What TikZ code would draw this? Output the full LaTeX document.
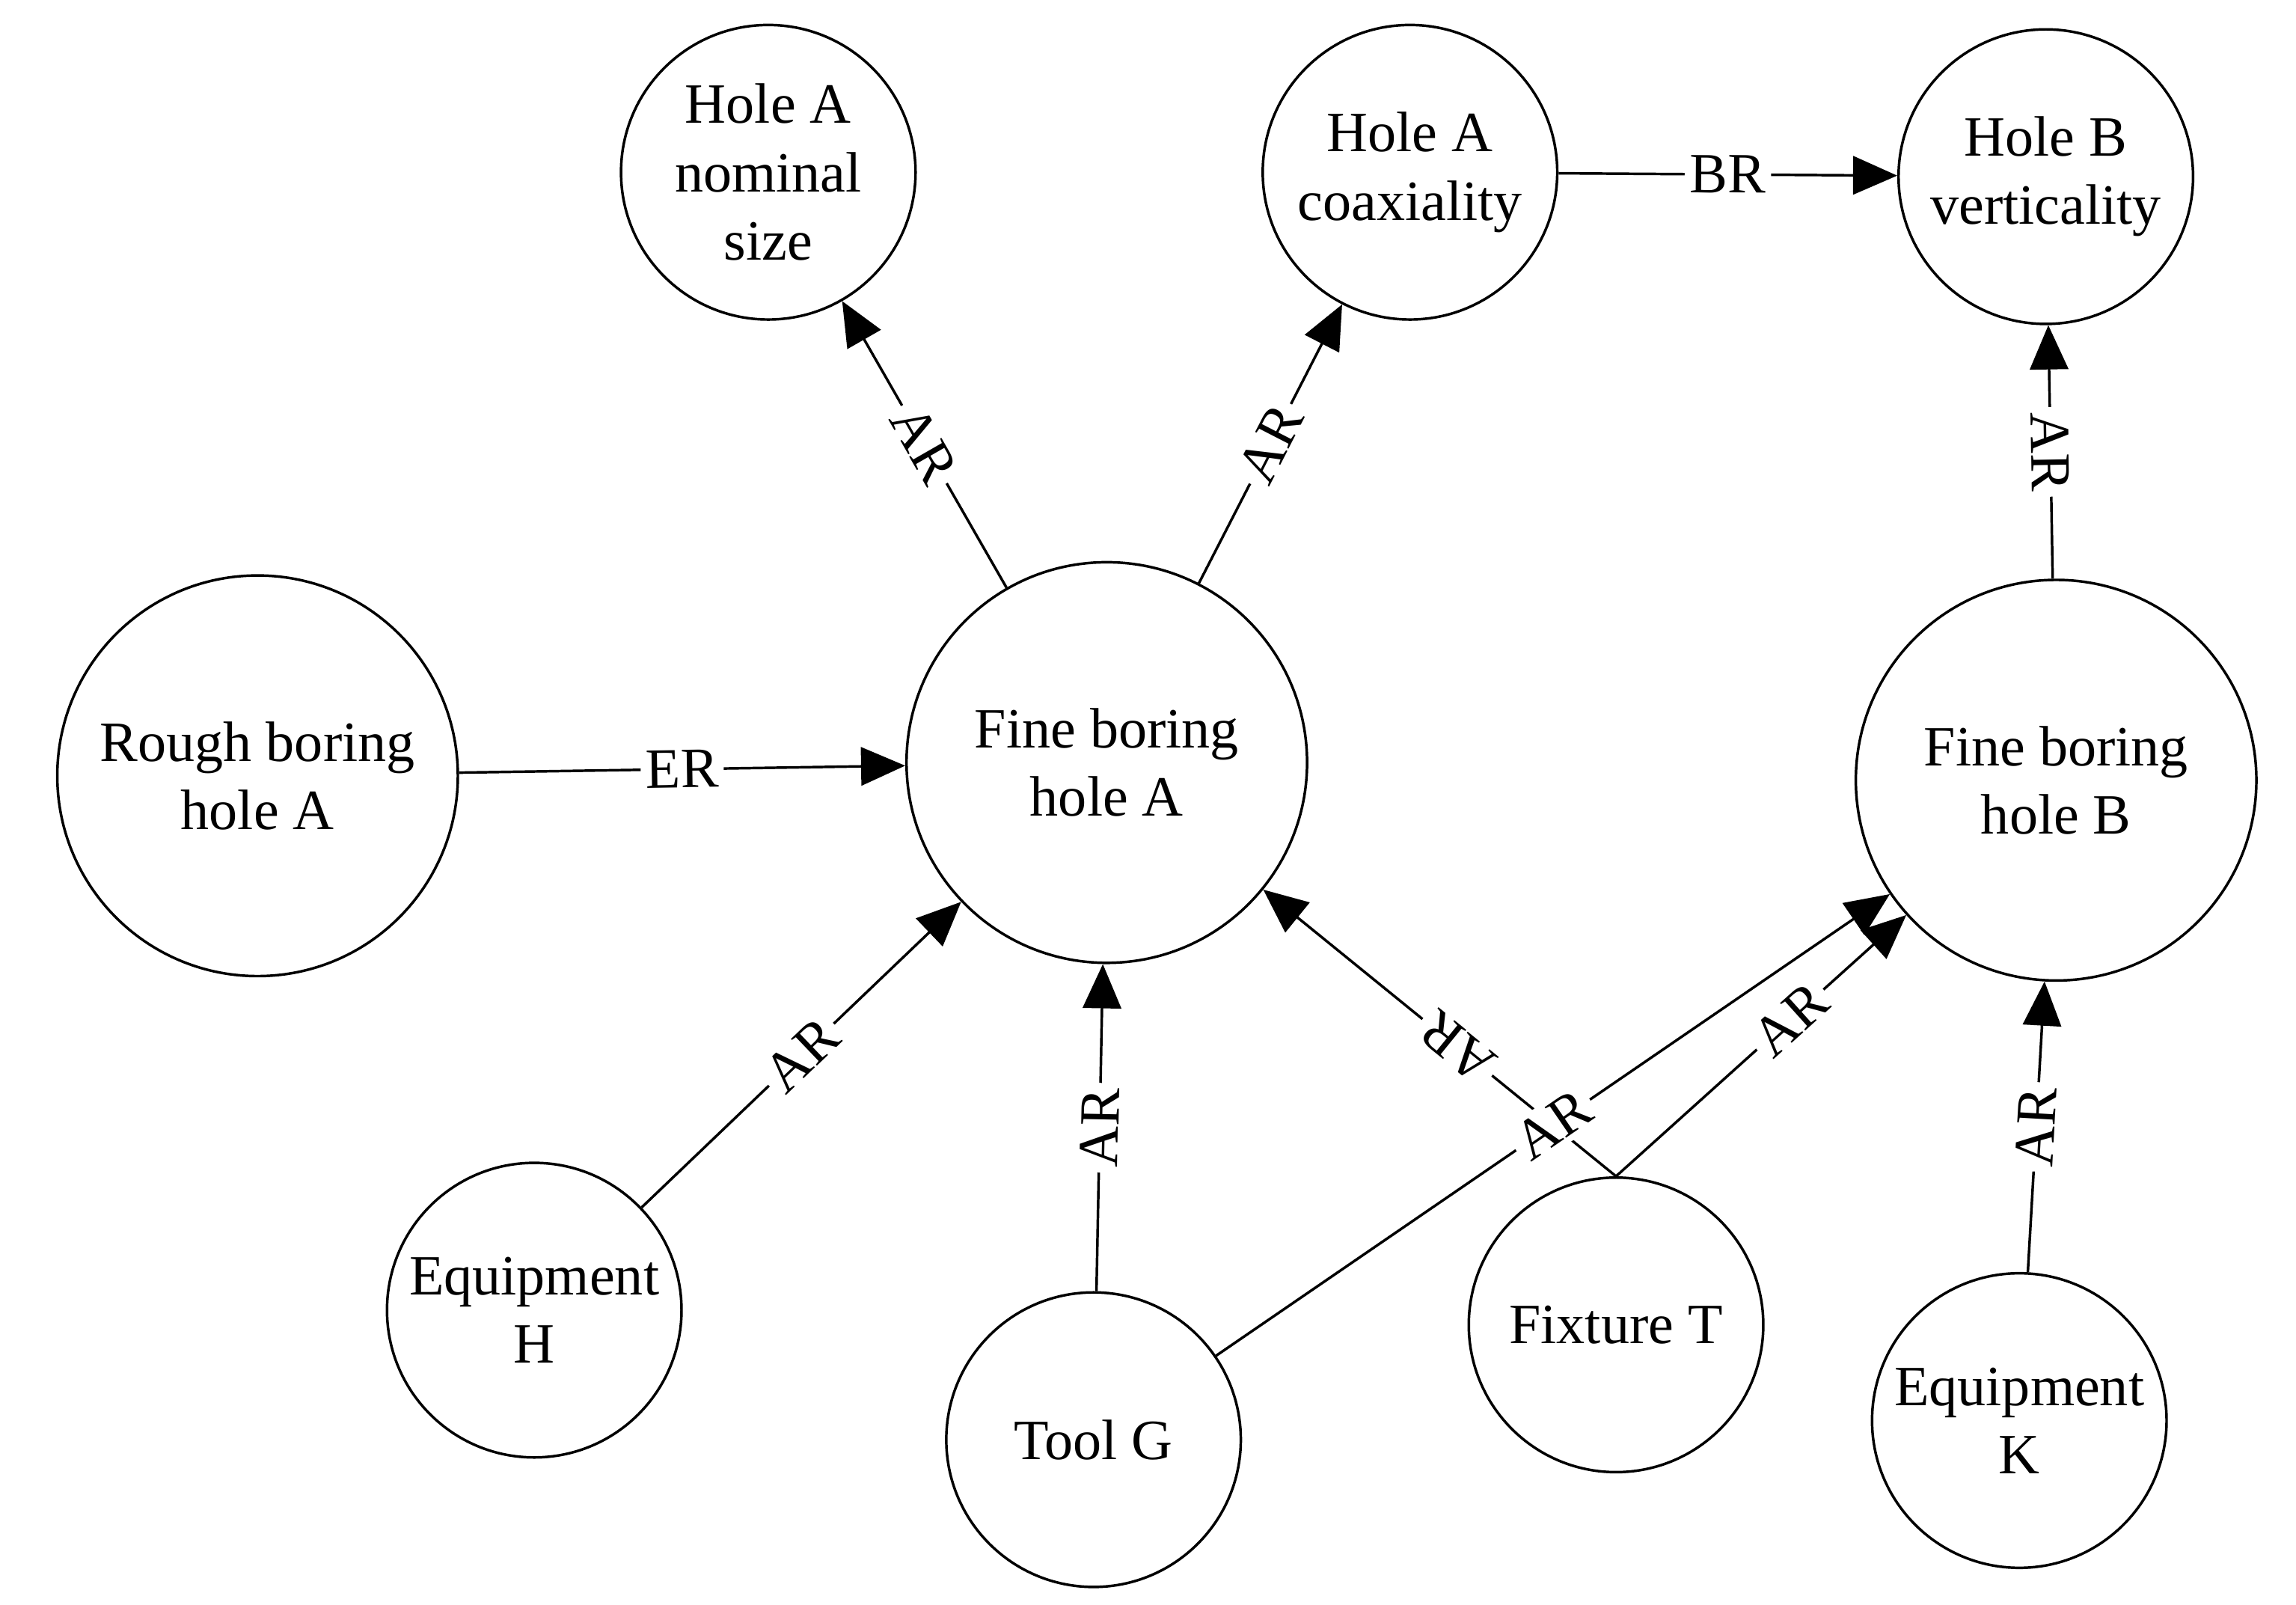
\documentclass[tikz,border=0pt]{standalone}
\usepackage{fontspec}
\setmainfont{Liberation Serif}
\usetikzlibrary{arrows.meta}

\begin{document}
\begin{tikzpicture}[x=0.01cm,y=-0.01cm,>={Triangle[length=3mm,width=2.6mm]}]
  \fontsize{11}{13.2}\selectfont
  \tikzset{
    item/.style={circle, draw=black, line width=0.5pt, align=center, inner sep=0pt},
    small/.style={item, minimum size=2cm},
    big/.style={item, minimum size=2.72cm},
    rel/.style={->, line width=0.5pt},
    tag/.style={fill=white, inner sep=1pt, sloped}
  }
  \useasboundingbox (0,0) rectangle (1560,1090);
  % nodes
  \node[small] (nomA) at (522,117) {Hole A\\nominal\\size};
  \node[small] (coaxA) at (958,117) {Hole A\\coaxiality};
  \node[small] (vertB) at (1390,120) {Hole B\\verticality};
  \node[big] (roughA) at (175,527) {Rough boring\\hole A};
  \node[big] (fineA) at (752,518) {Fine boring\\hole A};
  \node[big] (fineB) at (1397,530) {Fine boring\\hole B};
  \node[small] (eqH) at (363,890) {Equipment\\H};
  \node[small] (toolG) at (743,978) {Tool G};
  \node[small] (fixT) at (1098,900) {Fixture T};
  \node[small] (eqK) at (1372,965) {Equipment\\K};
  % relations
  \draw[rel] (fineA) -- node[tag] {AR} (nomA);
  \draw[rel] (fineA) -- node[tag] {AR} (coaxA);
  \draw[rel] (coaxA) -- node[tag] {BR} (vertB);
  \draw[rel] (fineB) -- node[tag] {AR} (vertB);
  \draw[rel] (roughA) -- node[tag] {ER} (fineA);
  \draw[rel] (eqH) -- node[tag] {AR} (fineA);
  \draw[rel] (toolG) -- node[tag] {AR} (fineA);
  \draw[rel] (fixT.north) -- node[tag, allow upside down, pos=0.45] {AR} (fineA);
  \draw[rel] (toolG) -- node[tag, pos=0.5] {AR} (fineB);
  \draw[rel] (fixT.north) -- node[tag, pos=0.6] {AR} (fineB);
  \draw[rel] (eqK) -- node[tag] {AR} (fineB);
\end{tikzpicture}
\end{document}
